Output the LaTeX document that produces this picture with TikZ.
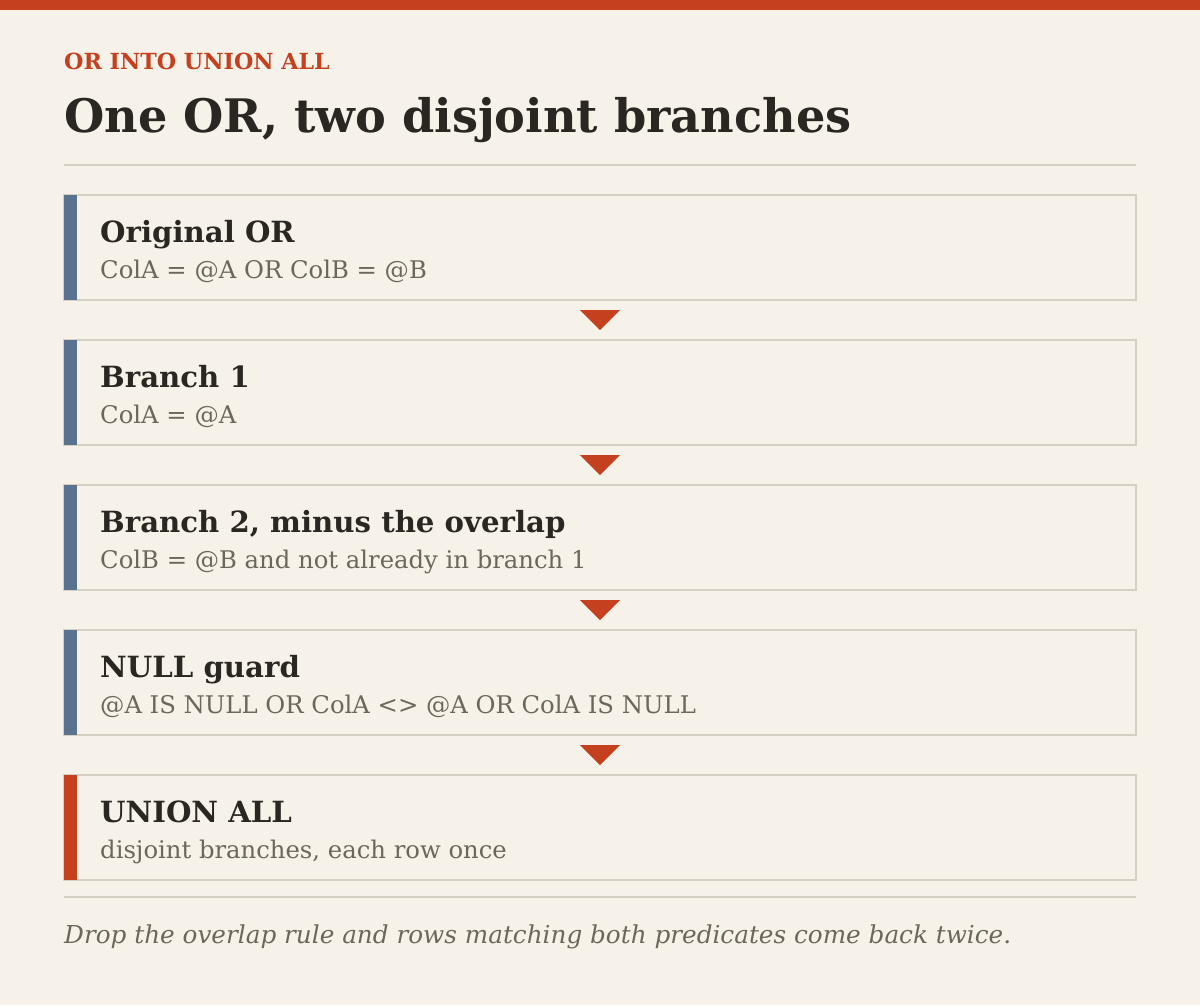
\documentclass[tikz,border=0pt]{standalone}
\usepackage{fontspec}
\setmainfont{DejaVu Serif}
\usetikzlibrary{calc}
\definecolor{bg}{HTML}{F7F2E9}
\definecolor{accent}{HTML}{C4401E}
\definecolor{slate}{HTML}{587290}
\definecolor{rulec}{HTML}{D6CFC4}
\definecolor{ink}{HTML}{2A2723}
\definecolor{muted}{HTML}{6C665B}
\begin{document}
\begin{tikzpicture}[x=1pt,y=-1pt,
  card/.style={draw=rulec,line width=2pt,fill=bg,minimum width=1072pt,minimum height=105pt,anchor=north west,inner sep=0pt,outer sep=0pt},
  cardtitle/.style={anchor=base west,inner sep=0pt,text=ink,font=\fontsize{29.2}{34}\selectfont\bfseries},
  cardsub/.style={anchor=base west,inner sep=0pt,text=muted,font=\fontsize{24.3}{28}\selectfont},
  flowtip/.style={fill=accent,draw=none},
  hrule/.style={draw=rulec,line width=2pt}]
\fill[bg] (0,0) rectangle (1200,1005);
\useasboundingbox (0,0) rectangle (1200,1005);
\fill[accent] (0,0) rectangle (1200,10);
\node[anchor=base west,inner sep=0pt,text=accent,font=\fontsize{22.2}{26}\selectfont\bfseries] (kicker) at (64,69) {OR INTO UNION ALL};
\node[anchor=base west,inner sep=0pt,text=ink,font=\fontsize{46.2}{54}\selectfont\bfseries] (title) at (64,132) {One OR, two disjoint branches};
\coordinate (r1a) at (64,165);
\coordinate (r1b) at (1136,165);
\draw[hrule] (r1a) -- (r1b);
% cards
\foreach \n/\y/\c in {1/195/slate,2/340/slate,3/485/slate,4/630/slate,5/775/accent}{
  \node[card] (b\n) at (64,\y) {};
  \fill[\c] (b\n.north west) rectangle ($(b\n.south west)+(13,0)$);
}
\node[cardtitle] (t1) at ($(b1.north west)+(36,47)$) {Original OR};
\node[cardsub] (s1) at ($(b1.north west)+(36,83)$) {ColA = @A OR ColB = @B};
\node[cardtitle] (t2) at ($(b2.north west)+(36,47)$) {Branch 1};
\node[cardsub] (s2) at ($(b2.north west)+(36,83)$) {ColA = @A};
\node[cardtitle] (t3) at ($(b3.north west)+(36,47)$) {Branch 2, minus the overlap};
\node[cardsub] (s3) at ($(b3.north west)+(36,83)$) {ColB = @B and not already in branch 1};
\node[cardtitle] (t4) at ($(b4.north west)+(36,47)$) {NULL guard};
\node[cardsub] (s4) at ($(b4.north west)+(36,83)$) {@A IS NULL OR ColA <> @A OR ColA IS NULL};
\node[cardtitle] (t5) at ($(b5.north west)+(36,47)$) {UNION ALL};
\node[cardsub] (s5) at ($(b5.north west)+(36,83)$) {disjoint branches, each row once};
% arrows
\foreach \a/\b in {1/2,2/3,3/4,4/5}{
  \coordinate (m\a) at ($(b\a.south)!0.5!(b\b.north)$);
  \fill[flowtip] ($(m\a)+(-20,-10)$) -- ($(m\a)+(20,-10)$) -- ($(m\a)+(0,10)$) -- cycle;
}
\coordinate (r2a) at (64,897);
\coordinate (r2b) at (1136,897);
\draw[hrule] (r2a) -- (r2b);
\node[anchor=base west,inner sep=0pt,text=muted,font=\fontsize{24.7}{29}\selectfont\itshape] (foot) at (64,943) {Drop the overlap rule and rows matching both predicates come back twice.};
\end{tikzpicture}
\end{document}
